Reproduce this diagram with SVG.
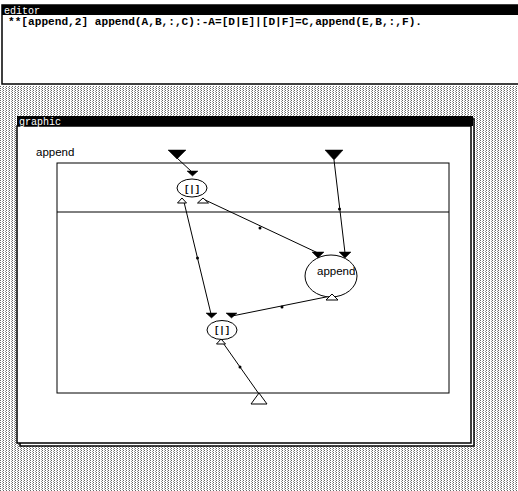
<svg xmlns="http://www.w3.org/2000/svg" width="518" height="491" viewBox="0 0 518 491">
<defs>
<pattern id="stip" width="3" height="2" patternUnits="userSpaceOnUse">
<rect width="3" height="2" fill="#ffffff"/>
<rect x="0" y="0" width="1" height="1" fill="#666"/>
<rect x="2" y="1" width="1" height="1" fill="#999"/>
</pattern>
</defs>
<style>
.t{font-family:"Liberation Sans",Arial,sans-serif;fill:#000}
.m{font-family:"Liberation Mono","DejaVu Sans Mono",monospace;fill:#000}
.bt{fill:#000;stroke:#000;stroke-width:0.5}
.wt{fill:#fff;stroke:#000;stroke-width:1}
.ln{stroke:#000;stroke-width:1;fill:none}
.nd{fill:#fff;stroke:#000;stroke-width:1}
</style>
<rect x="0" y="0" width="518" height="491" fill="#fff"/>
<rect x="0" y="86" width="518" height="405" fill="url(#stip)"/>
<g id="editor">
<rect x="2" y="5" width="520" height="79" fill="#fff" stroke="#000" stroke-width="1.5"/>
<rect x="2" y="5" width="518" height="10" fill="#000"/>
<text x="4" y="13.5" class="m" font-size="10" style="fill:#fff">editor</text>
<text x="8" y="25" class="m" font-size="11" font-weight="bold" textLength="414" lengthAdjust="spacingAndGlyphs">**[append,2] append(A,B,:,C):-A=[D|E]|[D|F]=C,append(E,B,:,F).</text>
</g>
<g id="graphic-window">
<rect x="20" y="119" width="454" height="327" fill="#fff" stroke="#000" stroke-width="1.5"/>
<rect x="17" y="126" width="454" height="317" fill="#fff" stroke="#000" stroke-width="1.5"/>
<rect x="17" y="116" width="456" height="10" fill="#000"/>
<text x="19" y="124.5" class="m" font-size="10" style="fill:#fff">graphic</text>
</g>
<g id="clause-frame">
<text x="36" y="156" class="t" font-size="11.5">append</text>
<rect x="57" y="163" width="392" height="230" class="ln"/>
<line x1="57" y1="212" x2="449" y2="212" class="ln"/>
</g>
<g id="connectors">
<line x1="177" y1="158" x2="192" y2="172" class="ln"/>
<line x1="334" y1="160" x2="345" y2="253" class="ln"/>
<circle cx="339.5" cy="209" r="1.5" fill="#000"/>
<line x1="203" y1="199" x2="318" y2="253" class="ln"/>
<circle cx="260" cy="228" r="1.5" fill="#000"/>
<line x1="184" y1="202" x2="211" y2="314" class="ln"/>
<circle cx="197.5" cy="258" r="1.5" fill="#000"/>
<line x1="331" y1="296" x2="232" y2="316" class="ln"/>
<circle cx="282" cy="307" r="1.5" fill="#000"/>
<line x1="221" y1="340" x2="259" y2="394" class="ln"/>
<circle cx="240" cy="367" r="1.5" fill="#000"/>
</g>
<g id="in1"><polygon points="168,150 186,150 177,159" class="bt"/></g>
<g id="in2"><polygon points="325,150 343,150 334,160" class="bt"/></g>
<g id="cons1">
<ellipse cx="192" cy="188" rx="15" ry="9" class="nd"/>
<polygon points="187,171 198,171 192.5,176" class="bt"/>
<text x="192" y="192" class="m" font-size="9" font-weight="bold" text-anchor="middle">[|]</text>
<polygon points="182,198 177.5,203 186.5,203" class="wt"/>
<polygon points="203,198 197.5,203 208.5,203" class="wt"/>
</g>
<g id="append-node">
<ellipse cx="331" cy="276" rx="26" ry="21" class="nd"/>
<polygon points="312,252 324,252 318,258" class="bt"/>
<polygon points="339,252 351,252 345,258" class="bt"/>
<text x="317" y="275" class="t" font-size="11.5">append</text>
<polygon points="332,294 326,300 338,300" class="wt"/>
</g>
<g id="cons2">
<ellipse cx="222" cy="330" rx="15" ry="9.5" class="nd"/>
<polygon points="206,313 217,313 211.5,318" class="bt"/>
<polygon points="226,313 237,313 231.5,318" class="bt"/>
<text x="222" y="333" class="m" font-size="9" font-weight="bold" text-anchor="middle">[|]</text>
<polygon points="221,339 216.5,344 225.5,344" class="wt"/>
</g>
<g id="out1"><polygon points="259,393 251,404 267,404" class="wt"/></g>
</svg>
